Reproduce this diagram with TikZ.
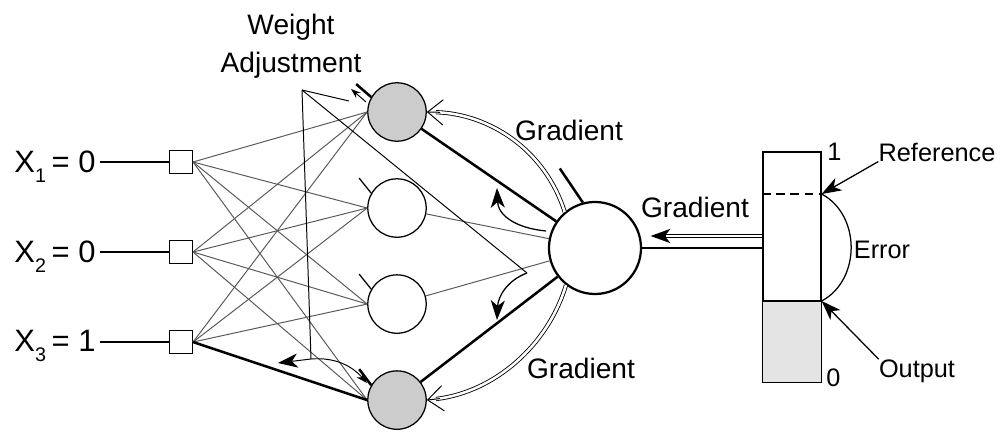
\documentclass[tikz,border=0pt]{standalone}
\usepackage{fontspec}
\setmainfont{Liberation Sans}
\usetikzlibrary{positioning,arrows.meta}

\definecolor{actgray}{RGB}{204,204,204}
\definecolor{bargray}{RGB}{228,228,228}
\newcommand{\xin}[2]{X\raisebox{-7pt}{\fontsize{14}{14}\selectfont #1}\hspace{4pt}= #2}

\begin{document}
\begin{tikzpicture}[
			x=0.025cm, y=-0.025cm,
			inp/.style = {draw, rectangle, minimum size=0.57cm, inner sep=0pt, line width=0.9pt},
			hid/.style = {draw, circle, minimum size=1.46cm, inner sep=0pt, line width=0.9pt},
			act/.style = {hid, fill=actgray},
			outn/.style = {draw, circle, minimum size=2.3cm, inner sep=0pt, line width=1.6pt},
			txt/.style = {font=\fontsize{20}{27}\selectfont, inner sep=0pt},
			small/.style = {font=\fontsize{18}{22}\selectfont, inner sep=0pt},
			xlbl/.style = {font=\fontsize{22}{26}\selectfont, inner sep=3pt},
			fan/.style = {draw=black!65, line width=0.7pt},
			heavy/.style = {line width=1.8pt},
			dbl/.style = {double, double distance=1.8pt, line width=0.6pt},
			barb/.style = {line width=0.7pt, -{Straight Barb[length=11pt, width=18pt]}},
			arr/.style = {-{Stealth[length=14pt, width=10pt, inset=4pt]}}
		]
		\useasboundingbox (0,0) rectangle (1006,444);
		% Inputs and hidden layer.
		\node[inp] (i1) at (181,162) {};
		\node[inp] (i2) [below of=i1, node distance=2.25cm] {};
		\node[inp] (i3) [below of=i2, node distance=2.25cm] {};
		\node[xlbl, anchor=base east] (x1) at (100,173) {\xin{1}{0}};
		\node[xlbl, anchor=base east] (x2) at (100,263) {\xin{2}{0}};
		\node[xlbl, anchor=base east] (x3) at (100,352) {\xin{3}{1}};
		\node[act] (h1) at (397,112) {};
		\node[hid] (h2) [below of=h1, node distance=2.4cm] {};
		\node[hid] (h3) [below of=h2, node distance=2.4cm] {};
		\node[act] (h4) [below of=h3, node distance=2.4cm] {};
		\node[outn] (o) at (595,248) {};
		% Output bar.
		\node[draw, minimum width=1.45cm, minimum height=5.75cm, inner sep=0pt, line width=0.9pt] (bar) at (792,267) {};
		\fill[bargray, draw=black, line width=0.9pt] (bar.south west) rectangle (bar.east |- 0,301);
		\coordinate (refpt) at (bar.east |- 0,194);
		\coordinate (outpt) at (bar.east |- 0,301);
		\draw[dash pattern=on 6pt off 4pt, line width=0.9pt] (bar.west |- refpt) -- (refpt);
		\node[small, anchor=west] (one) at (827,152) {1};
		\node[small, anchor=west] (zero) at (826,378) {0};
		\node[small] (reflbl) at (937,152) {Reference};
		\node[small] (errlbl) at (882,250) {Error};
		\node[small] (outlbl) at (917,371) {Output};
		\draw[arr, line width=0.9pt] (reflbl.south west) -- (refpt);
		\draw[arr, line width=0.9pt] (outlbl.north west) -- (outpt);
		\draw[line width=0.9pt] (refpt) .. controls (861,215) and (861,280) .. (outpt);
		% Labels.
		\node[txt, align=center] (wadj) at (291,46) {Weight\\Adjustment};
		\node[txt] (g1) at (569,130) {Gradient};
		\node[txt] (g2) at (695,207) {Gradient};
		\node[txt] (g3) at (581,368) {Gradient};
		% Input lines.
		\draw[line width=0.8pt] (x1.east |- i1) -- (i1);
		\draw[line width=0.8pt] (x2.east |- i2) -- (i2);
		\draw[line width=0.8pt] (x3.east |- i3) -- (i3);
		% Draw the input to hidden edges.
		\draw[fan] (i1.east) -- (h1.west);
		\draw[fan] (i1.east) -- (h2.west);
		\draw[fan] (i1.east) -- (h3.west);
		\draw[fan] (i1.east) -- (h4.west);
		\draw[fan] (i2.east) -- (h1.west);
		\draw[fan] (i2.east) -- (h2.west);
		\draw[fan] (i2.east) -- (h3.west);
		\draw[fan] (i2.east) -- (h4.west);
		\draw[fan] (i3.east) -- (h1.west);
		\draw[fan] (i3.east) -- (h2.west);
		\draw[fan] (i3.east) -- (h3.west);
		\draw[heavy] (i3.east) -- (h4.west);
		% Draw the hidden to output edges.
		\draw[heavy] (h1) -- (o);
		\draw[fan] (h2) -- (o);
		\draw[fan] (h3) -- (o);
		\draw[heavy] (h4) -- (o);
		\draw[line width=0.9pt] (o.east) -- (bar.west |- o.east);
		% Bias stubs.
		\draw[heavy] (h1.150) -- +(-15,-13);
		\draw[line width=0.9pt] (h2.150) -- +(-12,-15);
		\draw[line width=0.9pt] (h3.150) -- +(-12,-15);
		\draw[heavy] (h4.150) -- +(-12,-16);
		\draw[heavy] (o.105) -- +(-23,-34);
		% Gradient arrows.
		\draw[dbl] (o.130) .. controls (545,150) and (490,114) .. (436,112.2);
		\draw[barb] (440,112.3) -- (h1.east);
		\draw[dbl] (o.232) .. controls (548,345) and (495,392) .. (436,399);
		\draw[barb] (440,398.6) -- (h4.east);
		\draw[line width=2.6pt, arr] (bar.west |- 0,236) -- ([xshift=6pt]o.east |- 0,236);
		\draw[line width=1pt, white] ([xshift=-0.6pt]bar.west |- 0,236) -- (666,236);
		% Weight adjustment.
		\coordinate (apex) at (302,90);
		\coordinate (wbot) at (311,359);
		\coordinate (wout) at (527,273);
		\draw[line width=0.7pt] (apex) -- (349,101);
		\draw[line width=0.7pt] (apex) -- (wout);
		\draw[line width=0.7pt] (apex) -- (wbot);
		\draw[line width=0.7pt, -{Stealth[length=7pt, width=5pt]}] (366,102) -- (351,89);
		\draw[line width=0.7pt, arr] (wbot) -- (278,363);
		\draw[line width=0.7pt, -{Stealth[length=8pt, width=6pt]}] (wbot) .. controls (335,357) and (352,366) .. (367,383);
		\draw[line width=0.9pt, arr] (546,231) .. controls (515,228) and (498,215) .. (497,188);
		\draw[line width=0.9pt, arr] (wout) .. controls (508,280) and (498,296) .. (497,320);
	\end{tikzpicture}
\end{document}
